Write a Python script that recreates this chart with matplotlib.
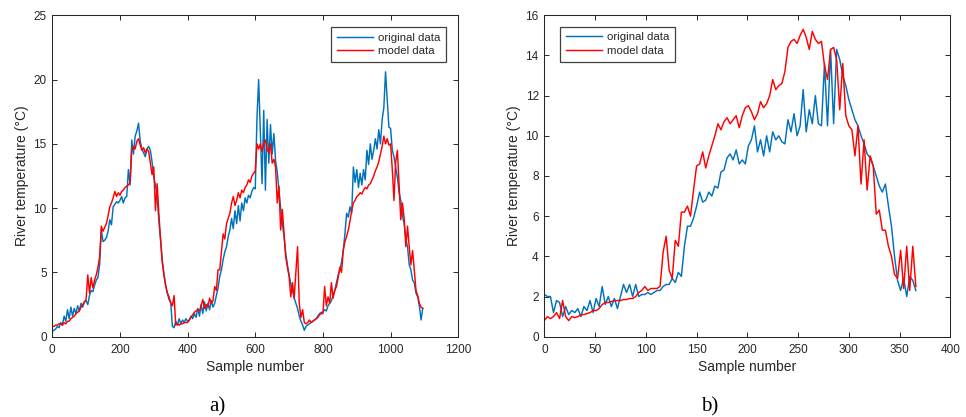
import numpy as np
import matplotlib
matplotlib.use("Agg")
import matplotlib.pyplot as plt

# panel a) three years, one value every 5 samples
step_a = 5
orig_a = [
    0.4, 0.5, 0.6, 0.8, 0.7, 1.1, 0.9, 1.6, 1.2, 2.1, 1.4, 2.3, 1.6, 2.2, 1.8, 2.4, 2.0, 2.6, 2.3, 2.7,
    2.8, 2.5, 3.2, 3.6, 3.5, 4.0, 4.4, 4.6, 5.6, 8.3, 7.4, 7.5, 7.7, 8.2, 9.1, 8.7, 10.1, 10.3, 10.5, 10.4,
    10.6, 10.9, 10.4, 10.8, 10.9, 13.0, 11.8, 15.3, 14.2, 15.6, 16.0, 16.6, 15.2, 14.6, 14.3, 14.0, 14.6, 14.8, 14.5, 13.6,
    12.4, 11.8, 10.9, 9.0, 7.6, 6.0, 4.9, 4.0, 3.4, 2.9, 2.7, 0.8, 0.7, 1.2, 0.9, 1.4, 1.0, 1.3, 1.1, 1.4,
    1.2, 1.3, 1.6, 1.4, 1.8, 1.5, 2.2, 1.6, 2.5, 1.8, 2.7, 2.0, 2.6, 2.1, 2.8, 2.3, 2.6, 3.2, 3.8, 4.7,
    5.2, 6.0, 6.6, 7.0, 7.8, 8.3, 9.2, 8.4, 9.8, 8.8, 10.2, 9.0, 10.4, 9.8, 10.8, 10.4, 11.0, 10.8, 11.3, 11.6,
    11.5, 17.0, 20.0, 16.0, 11.9, 17.6, 11.4, 16.9, 13.5, 16.5, 14.2, 15.8, 13.7, 12.8, 11.4, 10.0, 8.8, 7.8, 6.5, 5.6,
    4.8, 4.1, 3.6, 3.0, 2.6, 2.2, 1.6, 1.2, 0.9, 0.5, 0.8, 0.9, 1.0, 1.1, 1.2, 1.3, 1.4, 1.6, 1.8, 1.9,
    1.9, 2.1, 2.0, 2.4, 2.6, 2.8, 3.2, 3.6, 4.2, 4.8, 5.2, 5.8, 6.7, 8.0, 9.6, 9.3, 10.1, 9.6, 13.2, 12.0,
    13.0, 11.6, 12.7, 11.8, 13.0, 12.2, 14.5, 13.4, 15.0, 13.8, 14.5, 15.4, 14.6, 16.1, 15.0, 16.9, 17.8, 20.6, 18.5, 16.3,
    16.2, 14.5, 14.0, 13.2, 12.4, 11.2, 10.6, 9.4, 8.8, 7.6, 7.0, 5.6, 5.2, 4.4, 4.2, 3.4, 3.1, 2.4, 1.3, 2.2,
]
model_a = [
    0.8, 0.8, 0.9, 0.9, 1.0, 1.0, 0.9, 1.1, 1.0, 1.2, 1.2, 1.4, 1.5, 1.6, 1.8, 1.9, 2.0, 2.3, 2.5, 2.7,
    2.9, 4.8, 3.4, 4.6, 3.8, 4.4, 4.8, 5.4, 6.2, 8.6, 8.2, 8.5, 8.8, 9.4, 10.1, 10.4, 10.8, 11.3, 10.9, 11.2,
    11.0, 11.3, 11.4, 11.6, 11.7, 11.8, 12.0, 14.5, 14.8, 14.6, 15.2, 15.4, 14.9, 14.5, 14.7, 14.3, 14.6, 14.4, 13.5, 12.6,
    13.2, 9.8, 11.9, 9.6, 7.6, 5.8, 4.8, 4.0, 3.4, 3.1, 2.6, 2.4, 3.2, 0.9, 1.0, 0.9, 1.0, 1.0, 1.1, 1.1,
    1.1, 1.3, 1.5, 1.7, 1.9, 2.0, 2.1, 2.0, 2.4, 2.9, 2.2, 2.5, 2.3, 3.0, 2.6, 2.8, 3.9, 3.6, 5.2, 5.2,
    6.6, 8.0, 7.6, 8.8, 9.2, 9.6, 10.4, 10.9, 10.2, 10.6, 11.2, 10.8, 11.4, 11.2, 11.6, 11.8, 12.2, 12.0, 12.5, 12.7,
    12.9, 15.0, 14.6, 15.0, 14.4, 15.0, 15.3, 14.6, 14.3, 15.0, 13.5, 13.8, 13.2, 10.4, 11.7, 8.3, 9.9, 8.0, 6.2, 5.4,
    4.7, 3.1, 4.2, 3.0, 5.0, 7.0, 2.6, 1.5, 2.1, 1.1, 1.0, 1.1, 1.3, 1.1, 1.2, 1.3, 1.4, 1.5, 1.7, 1.8,
    1.8, 3.9, 2.4, 3.1, 2.6, 4.2, 3.0, 3.6, 3.9, 4.6, 5.4, 5.0, 6.7, 7.4, 7.8, 8.3, 9.0, 9.8, 10.4, 10.6,
    10.9, 11.0, 11.2, 11.1, 11.4, 11.6, 11.5, 11.8, 11.9, 12.2, 12.5, 12.9, 13.2, 13.6, 14.2, 14.8, 15.6, 15.0, 15.4, 14.9,
    15.0, 13.0, 10.6, 13.6, 14.5, 11.9, 9.1, 10.4, 9.2, 7.0, 8.6, 7.0, 5.6, 6.7, 5.2, 3.6, 3.2, 2.6, 2.3, 2.2,
]

# panel b) one year, one value every 3 samples
step_b = 3
orig_b = [
    2.1, 2.0, 2.0, 1.2, 1.8, 1.7, 1.0, 1.5, 1.1, 1.3,
    1.2, 1.4, 1.0, 1.5, 1.3, 1.8, 1.2, 1.9, 1.5, 2.5,
    1.6, 2.0, 1.5, 1.9, 1.4, 2.0, 2.6, 2.2, 2.6, 2.0,
    2.6, 2.0, 2.1, 2.1, 2.2, 2.1, 2.2, 2.3, 2.3, 2.5,
    2.6, 2.6, 2.9, 2.7, 3.2, 3.0, 4.5, 5.5, 5.5, 5.9,
    6.5, 7.2, 6.7, 6.8, 7.2, 7.0, 7.5, 7.4, 8.2, 8.3,
    8.9, 9.1, 8.8, 9.3, 8.6, 8.8, 8.6, 9.5, 9.8, 10.5,
    9.2, 9.8, 9.0, 10.0, 9.2, 10.2, 9.8, 10.0, 9.7, 9.6,
    10.8, 10.2, 11.1, 10.0, 10.5, 12.3, 10.2, 11.3, 10.6, 12.0,
    10.6, 10.5, 13.6, 10.5, 14.3, 10.6, 14.3, 13.8, 13.0, 12.5,
    11.8, 11.3, 10.8, 10.5, 10.0, 9.6, 9.1, 8.9, 8.5, 8.0,
    7.5, 7.2, 7.6, 6.5, 5.5, 4.0, 2.8, 2.3, 2.9, 2.0,
    3.0, 2.8, 2.3,
]
model_b = [
    0.8, 1.0, 0.9, 1.0, 1.2, 0.9, 1.8, 1.0, 0.8, 1.0,
    0.95, 1.0, 1.1, 1.1, 1.15, 1.2, 1.3, 1.3, 1.4, 1.6,
    1.7, 1.7, 1.75, 1.8, 1.8, 1.8, 1.85, 1.85, 1.9, 1.9,
    2.0, 2.2, 2.3, 2.5, 2.3, 2.4, 2.4, 2.4, 2.5, 4.2,
    5.0, 3.3, 2.9, 4.8, 4.5, 6.2, 6.2, 6.5, 6.0, 7.3,
    8.5, 8.6, 9.2, 8.4, 9.0, 9.5, 10.0, 10.6, 10.3, 10.7,
    10.9, 10.6, 10.8, 11.0, 10.4, 11.0, 11.4, 11.5, 11.2, 10.8,
    11.1, 11.7, 11.4, 11.6, 12.0, 12.8, 12.3, 12.5, 12.6, 13.2,
    14.4, 14.7, 14.8, 14.6, 15.0, 15.3, 14.9, 14.3, 15.2, 14.8,
    14.6, 14.7, 13.5, 12.8, 14.3, 14.4, 13.8, 11.3, 13.6, 11.0,
    10.5, 10.3, 9.0, 10.5, 7.6, 9.8, 7.3, 9.0, 8.5, 6.1,
    6.3, 5.3, 5.3, 4.5, 4.0, 3.1, 2.9, 4.3, 2.4, 4.5,
    2.3, 4.5, 2.5,
]

BLUE = "#0072BD"
RED = "#FF0000"
AXC = "#262626"

plt.rcParams["font.family"] = ["Liberation Sans", "DejaVu Sans"]

fig = plt.figure(figsize=(9.66, 4.17), dpi=100)
ax_a = fig.add_axes([0.0541, 0.1926, 0.4203, 0.7707])
ax_b = fig.add_axes([0.5635, 0.1926, 0.4203, 0.7707])


def style(ax, xmax, xstep, ymax, ystep):
    ax.set_xlim(0, xmax)
    ax.set_ylim(0, ymax)
    ax.set_xticks(np.arange(0, xmax + 1, xstep))
    ax.set_yticks(np.arange(0, ymax + 1, ystep))
    ax.tick_params(direction="in", top=True, right=True, length=3.5, width=0.7,
                   color=AXC, labelcolor=AXC, labelsize=8.5)
    ax.tick_params(axis="x", pad=5)
    ax.tick_params(axis="y", pad=4)
    for sp in ax.spines.values():
        sp.set_color(AXC)
        sp.set_linewidth(0.75)
    ax.set_xlabel("Sample number", fontsize=10, color=AXC, labelpad=3)
    ax.set_ylabel("River temperature (\u00b0C)", fontsize=10, color=AXC, labelpad=3)


def legend(ax, loc, anchor):
    leg = ax.legend(loc=loc, bbox_to_anchor=anchor, borderaxespad=0, fontsize=8.2,
                    fancybox=False, framealpha=1, edgecolor="#404040",
                    handlelength=3.2, handletextpad=0.4, borderpad=0.5,
                    labelspacing=0.3)
    leg.get_frame().set_linewidth(0.9)
    for t in leg.get_texts():
        t.set_color(AXC)


xa = np.arange(len(orig_a)) * step_a
ax_a.plot(xa, orig_a, color=BLUE, lw=1.05, label="original data")
ax_a.plot(xa, model_a, color=RED, lw=1.05, label="model data")
style(ax_a, 1200, 200, 25, 5)
legend(ax_a, "upper right", (0.9697, 0.9627))

xb = np.arange(len(orig_b)) * step_b
ax_b.plot(xb, orig_b, color=BLUE, lw=1.05, label="original data")
ax_b.plot(xb, model_b, color=RED, lw=1.05, label="model data")
style(ax_b, 400, 50, 16, 2)
legend(ax_b, "upper left", (0.0387, 0.9645))

fig.text(0.2246, 0.024, "a)", family="Liberation Serif", fontsize=15,
         ha="center", va="center")
fig.text(0.735, 0.024, "b)", family="Liberation Serif", fontsize=15,
         ha="center", va="center")

fig.savefig("out.png", dpi=100)
